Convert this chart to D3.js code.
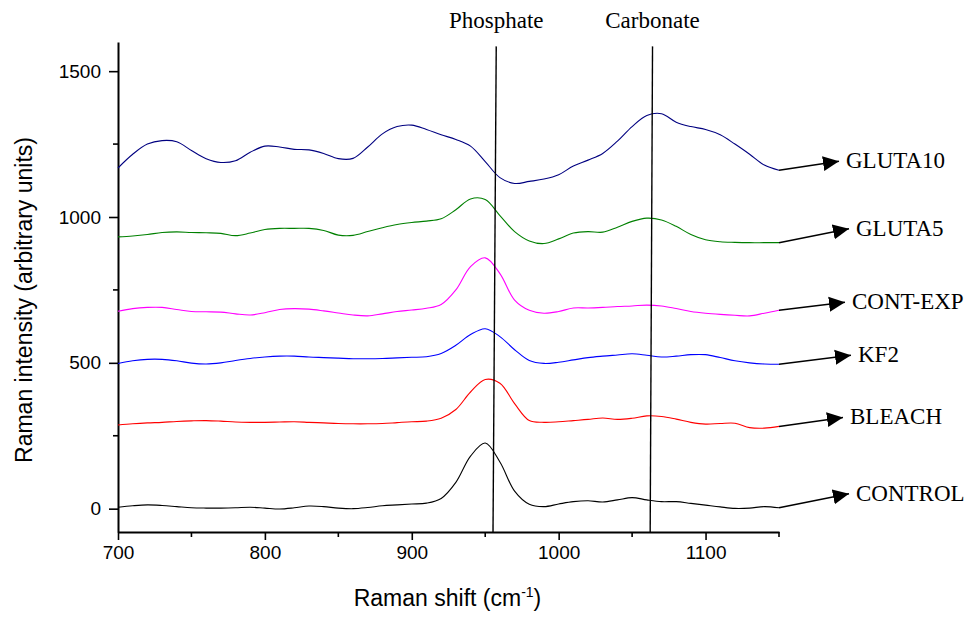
<!DOCTYPE html>
<html>
<head>
<meta charset="utf-8">
<script src="https://cdn.jsdelivr.net/npm/d3@7"></script>
<style>
  body { margin: 0; background: #fff; }
  .tickText { font-family: "Liberation Sans", Arial, sans-serif; font-size: 19px; fill: #000; }
  .axisText { font-family: "Liberation Sans", Arial, sans-serif; font-size: 23px; fill: #000; }
  .noteText { font-family: "Liberation Serif", "Times New Roman", serif; font-size: 23px; fill: #000; }
</style>
</head>
<body>
<div id="chart"></div>
<script>
// Raman shift values (cm-1) shared by all spectra
var shifts = [700, 710, 720, 730, 740, 750, 760, 770, 780, 790,
  800, 810, 820, 830, 840, 850, 860, 870, 880, 890,
  900, 910, 920, 930, 940, 950, 960, 970, 980, 990,
  1000, 1010, 1020, 1030, 1040, 1050, 1060, 1070, 1080, 1090,
  1100, 1110, 1120, 1130, 1140, 1150];

var seriesNames = ["GLUTA10", "GLUTA5", "CONT-EXP", "KF2", "BLEACH", "CONTROL"];

var gluta10 = [1168, 1215, 1250, 1262, 1258, 1228, 1200, 1187, 1193, 1222,
  1243, 1240, 1232, 1230, 1218, 1200, 1201, 1240, 1285, 1310,
  1315, 1300, 1282, 1266, 1243, 1190, 1135, 1115, 1122, 1130,
  1145, 1175, 1195, 1218, 1260, 1310, 1348, 1354, 1325, 1310,
  1300, 1282, 1250, 1215, 1178, 1160];

var gluta5 = [932, 935, 940, 947, 949, 947, 946, 944, 936, 945,
  957, 961, 961, 961, 954, 938, 937, 950, 963, 974,
  981, 986, 994, 1025, 1062, 1060, 1005, 950, 918, 909,
  925, 945, 950, 948, 965, 985, 996, 990, 968, 940,
  922, 915, 913, 912, 912, 912];

var contExp = [677, 686, 690, 690, 683, 676, 675, 674, 668, 664,
  672, 683, 686, 684, 678, 671, 664, 661, 668, 676,
  681, 687, 700, 750, 830, 860, 806, 715, 680, 670,
  676, 688, 688, 690, 693, 695, 698, 695, 686, 676,
  670, 666, 663, 661, 670, 680];

var kf2 = [498, 507, 512, 512, 507, 499, 496, 500, 508, 515,
  520, 523, 523, 520, 518, 516, 514, 514, 515, 517,
  519, 521, 532, 560, 597, 617, 590, 545, 508, 498,
  502, 510, 518, 523, 527, 531, 526, 520, 523, 528,
  528, 518, 507, 500, 496, 495];

var bleach = [287, 291, 294, 296, 299, 301, 302, 300, 297, 296,
  296, 297, 298, 296, 294, 292, 291, 291, 292, 295,
  298, 300, 310, 340, 400, 443, 430, 360, 302, 296,
  298, 302, 306, 311, 306, 310, 318, 316, 307, 296,
  290, 292, 293, 278, 276, 282];

var control = [5, 10, 13, 11, 7, 3, 2, 2, 3, 5,
  2, -1, 3, 9, 7, 2, 0, 4, 10, 13,
  16, 19, 35, 90, 180, 225, 160, 60, 15, 7,
  16, 24, 27, 23, 30, 38, 30, 24, 24, 18,
  12, 6, 1, 2, 7, 3];

var xTicks = [700, 800, 900, 1000, 1100];
var xMinorTicks = [750, 850, 950, 1050, 1150];
var yTicks = [0, 500, 1000, 1500];
var yMinorTicks = [250, 750, 1250];

// marker lines: [bottom shift, top shift, top intensity]
var bandNames = ["Phosphate", "Carbonate"];
var bandBottom = [955.3, 1062.3];
var bandTop = [957.5, 1063.9];
var bandTopValue = 1585;

var seriesValues = [gluta10, gluta5, contExp, kf2, bleach, control];
var colors = ["#000080", "#008000", "#ff00ff", "#0000ff", "#ff0000", "#000000"];
// arrow tip offsets (px) from the last point of each spectrum
var arrowDx = [60, 70, 66, 72, 64, 70];
var arrowDy = [-9, -14, -8, -9, -9, -14];

var svgWidth = 973;
var svgHeight = 617;

var margin = {
  top: 42,
  right: 194,
  bottom: 85,
  left: 118
};

var width = svgWidth - margin.left - margin.right;
var height = svgHeight - margin.top - margin.bottom;

var svg = d3.select("#chart")
  .append("svg")
  .attr("width", svgWidth)
  .attr("height", svgHeight);

svg.append("defs").append("marker")
  .attr("id", "arrow")
  .attr("viewBox", "0 0 16 16")
  .attr("refX", 16)
  .attr("refY", 8)
  .attr("markerWidth", 16)
  .attr("markerHeight", 16)
  .attr("markerUnits", "userSpaceOnUse")
  .attr("orient", "auto")
  .append("path")
  .attr("d", "M0,0.5 L16,8 L0,15.5 Z")
  .attr("fill", "#000");

var chartGroup = svg.append("g")
  .attr("transform", `translate(${margin.left}, ${margin.top})`);

var xLinearScale = d3.scaleLinear()
  .domain([700, 1150])
  .range([0, width]);

var yLinearScale = d3.scaleLinear()
  .domain([-80, 1600])
  .range([height, 0]);

// axes
var bottomAxis = d3.axisBottom(xLinearScale)
  .tickValues(xTicks)
  .tickFormat(d3.format("d"))
  .tickSize(8)
  .tickPadding(6)
  .tickSizeOuter(0);

var leftAxis = d3.axisLeft(yLinearScale)
  .tickValues(yTicks)
  .tickFormat(d3.format("d"))
  .tickSize(9)
  .tickPadding(8)
  .tickSizeOuter(0);

var xAxisGroup = chartGroup.append("g")
  .attr("transform", `translate(0, ${height})`)
  .call(bottomAxis);

var yAxisGroup = chartGroup.append("g")
  .call(leftAxis);

// minor ticks
chartGroup.append("g")
  .attr("transform", `translate(0, ${height})`)
  .selectAll("line")
  .data(xMinorTicks)
  .enter()
  .append("line")
  .attr("x1", d => xLinearScale(d))
  .attr("x2", d => xLinearScale(d))
  .attr("y1", 0)
  .attr("y2", 5)
  .attr("stroke", "#000")
  .attr("stroke-width", 1.6);

chartGroup.append("g")
  .selectAll("line")
  .data(yMinorTicks)
  .enter()
  .append("line")
  .attr("x1", -5)
  .attr("x2", 0)
  .attr("y1", d => yLinearScale(d))
  .attr("y2", d => yLinearScale(d))
  .attr("stroke", "#000")
  .attr("stroke-width", 1.6);

[xAxisGroup, yAxisGroup].forEach(function(g) {
  g.attr("font-size", null).attr("font-family", null);
  g.select(".domain").attr("stroke", "#000").attr("stroke-width", 2);
  g.selectAll(".tick line").attr("stroke", "#000").attr("stroke-width", 1.6);
  g.selectAll(".tick text").attr("class", "tickText");
});

// spectra
var line = d3.line()
  .x((d, i) => xLinearScale(shifts[i]))
  .y(d => yLinearScale(d))
  .curve(d3.curveCatmullRom.alpha(0.5));

chartGroup.selectAll(".spectrum")
  .data(seriesValues)
  .enter()
  .append("path")
  .attr("class", "spectrum")
  .attr("d", d => line(d))
  .attr("fill", "none")
  .attr("stroke", (d, i) => colors[i])
  .attr("stroke-width", 1.1);

// band marker lines
chartGroup.selectAll(".band")
  .data(bandNames)
  .enter()
  .append("line")
  .attr("class", "band")
  .attr("x1", (d, i) => xLinearScale(bandBottom[i]))
  .attr("y1", height)
  .attr("x2", (d, i) => xLinearScale(bandTop[i]))
  .attr("y2", yLinearScale(bandTopValue))
  .attr("stroke", "#000")
  .attr("stroke-width", 1.4);

chartGroup.selectAll(".bandLabel")
  .data(bandNames)
  .enter()
  .append("text")
  .attr("class", "noteText")
  .attr("x", (d, i) => xLinearScale(bandTop[i]))
  .attr("y", -14)
  .attr("text-anchor", "middle")
  .text(d => d);

// arrows and sample labels
var last = shifts.length - 1;
seriesNames.forEach(function(name, i) {
  var x0 = xLinearScale(shifts[last]);
  var y0 = yLinearScale(seriesValues[i][last]);
  chartGroup.append("line")
    .attr("x1", x0)
    .attr("y1", y0)
    .attr("x2", x0 + arrowDx[i])
    .attr("y2", y0 + arrowDy[i])
    .attr("stroke", "#000")
    .attr("stroke-width", 1.5)
    .attr("marker-end", "url(#arrow)");
  chartGroup.append("text")
    .attr("class", "noteText")
    .attr("x", x0 + arrowDx[i] + 7)
    .attr("y", y0 + arrowDy[i] + 7)
    .text(name);
});

// axis labels
chartGroup.append("text")
  .attr("transform", "rotate(-90)")
  .attr("y", 32 - margin.left)
  .attr("x", 0 - (height / 2) - 13)
  .attr("class", "axisText")
  .attr("text-anchor", "middle")
  .text("Raman intensity (arbitrary units)");

var xTitle = chartGroup.append("text")
  .attr("transform", `translate(${width / 2 - 1}, ${height + 74})`)
  .attr("class", "axisText")
  .attr("text-anchor", "middle");
xTitle.append("tspan").text("Raman shift (cm");
xTitle.append("tspan").attr("dy", -9).attr("font-size", "14px").text("-1");
xTitle.append("tspan").attr("dy", 9).text(")");
</script>
</body>
</html>
